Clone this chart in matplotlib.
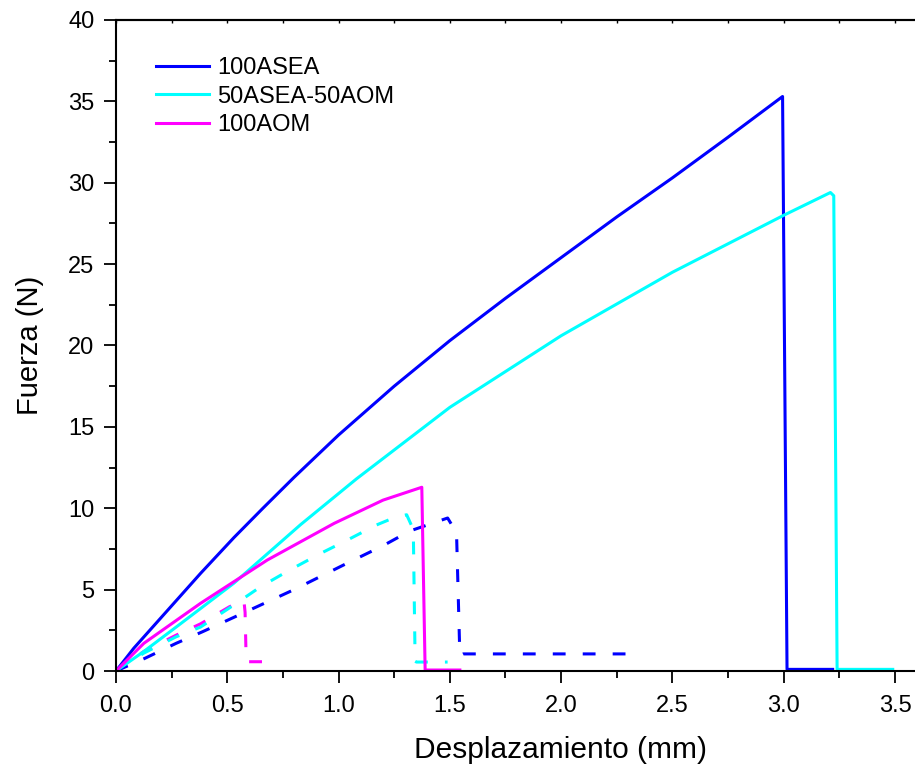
import matplotlib
matplotlib.use("Agg")
import matplotlib.pyplot as plt
from matplotlib.ticker import MultipleLocator

plt.rcParams['font.family'] = ['Liberation Sans', 'DejaVu Sans']

# ---- data ----
labels = ["100ASEA", "50ASEA-50AOM", "100AOM"]
colors = ["#0000FF", "#00FFFF", "#FF00FF"]

asea_x = [0, 0.08, 0.23, 0.38, 0.53, 0.66, 0.8, 1.0, 1.25, 1.5, 1.75, 2.0, 2.25, 2.5, 2.75, 2.995, 3.015, 3.03, 3.22]
asea_y = [0, 1.4, 3.7, 6.0, 8.2, 10.0, 11.9, 14.5, 17.5, 20.3, 22.9, 25.4, 27.9, 30.3, 32.8, 35.3, 0.1, 0.1, 0.1]

mix_x = [0, 0.125, 0.28, 0.53, 0.83, 1.08, 1.5, 2.0, 2.5, 3.0, 3.21, 3.225, 3.24, 3.49]
mix_y = [0, 1.2, 2.8, 5.4, 9.0, 11.8, 16.2, 20.6, 24.5, 28.0, 29.4, 29.2, 0.1, 0.1]

aom_x = [0, 0.125, 0.38, 0.68, 0.98, 1.2, 1.374, 1.389, 1.545]
aom_y = [0, 1.7, 4.16, 6.82, 9.07, 10.5, 11.29, 0.06, 0.06]

asea_d_x = [0, 0.13, 0.27, 0.39, 0.53, 0.8, 1.05, 1.2, 1.32, 1.49, 1.53, 1.545, 1.56, 2.3]
asea_d_y = [0, 0.78, 1.7, 2.42, 3.3, 5.0, 6.7, 7.7, 8.6, 9.4, 8.5, 0.95, 1.05, 1.05]

mix_d_x = [0, 0.125, 0.27, 0.38, 0.53, 0.65, 0.78, 0.92, 1.04, 1.17, 1.26, 1.306, 1.33, 1.336, 1.344, 1.35, 1.49]
mix_d_y = [0, 1.1, 2.1, 2.7, 4.06, 5.18, 6.2, 7.23, 8.05, 8.97, 9.48, 9.6, 8.87, 8.5, 0.6, 0.55, 0.55]

aom_d_x = [0, 0.125, 0.27, 0.38, 0.51, 0.575, 0.58, 0.585, 0.59, 0.68]
aom_d_y = [0, 1.2, 2.2, 2.9, 3.95, 4.3, 3.6, 0.6, 0.57, 0.57]

xticks = [0.0, 0.5, 1.0, 1.5, 2.0, 2.5, 3.0, 3.5]
yticks = [0, 5, 10, 15, 20, 25, 30, 35, 40]

# ---- figure ----
fig = plt.figure(figsize=(9.15, 7.67), dpi=100)
ax = fig.add_axes([116/915, 96/767, 1 - 116/915, (671-20)/767])

lw = 2.2
dash = (0, (4.2, 5.6))
ax.plot(aom_d_x, aom_d_y, color=colors[2], lw=lw, linestyle=dash)
ax.plot(mix_d_x, mix_d_y, color=colors[1], lw=lw, linestyle=dash)
ax.plot(asea_d_x, asea_d_y, color=colors[0], lw=lw, linestyle=dash)
l1, = ax.plot(asea_x, asea_y, color=colors[0], lw=lw)
l2, = ax.plot(mix_x, mix_y, color=colors[1], lw=lw)
l3, = ax.plot(aom_x, aom_y, color=colors[2], lw=lw)

ax.set_xlim(0, 3.59)
ax.set_ylim(0, 40)
ax.set_xticks(xticks)
ax.set_xticklabels([f"{v:.1f}" for v in xticks])
ax.set_yticks(yticks)
ax.set_yticklabels([str(v) for v in yticks])
ax.xaxis.set_minor_locator(MultipleLocator(0.25))
ax.yaxis.set_minor_locator(MultipleLocator(2.5))

for s in ['left', 'bottom', 'top']:
    ax.spines[s].set_linewidth(1.5)
ax.spines['right'].set_visible(False)

ax.tick_params(axis='both', which='major', direction='out', length=8.5, width=1.3,
               labelsize=17, colors='black')
ax.tick_params(axis='both', which='minor', direction='out', length=5, width=1.3)
ax.tick_params(axis='x', which='major', pad=9)
ax.tick_params(axis='y', which='major', pad=7)

# small inward ticks along the top edge
top = ax.secondary_xaxis('top')
top.set_xticks(xticks)
top.xaxis.set_minor_locator(MultipleLocator(0.25))
top.tick_params(which='both', direction='in', length=2, width=1.0, labeltop=False)
top.spines['top'].set_linewidth(1.5)

ax.set_xlabel("Desplazamiento (mm)", fontsize=21.5)
ax.set_ylabel("Fuerza (N)", fontsize=21)
ax.xaxis.set_label_coords((560-116)/799, -0.100)
ax.yaxis.set_label_coords(-0.09, 0.5)

ax.legend([l1, l2, l3], labels, loc='upper left', bbox_to_anchor=(0.05, 0.943),
          frameon=False, fontsize=17, handlelength=2.25, handletextpad=0.35,
          labelspacing=0.28, borderpad=0, borderaxespad=0)

fig.savefig("out.png", dpi=100)
